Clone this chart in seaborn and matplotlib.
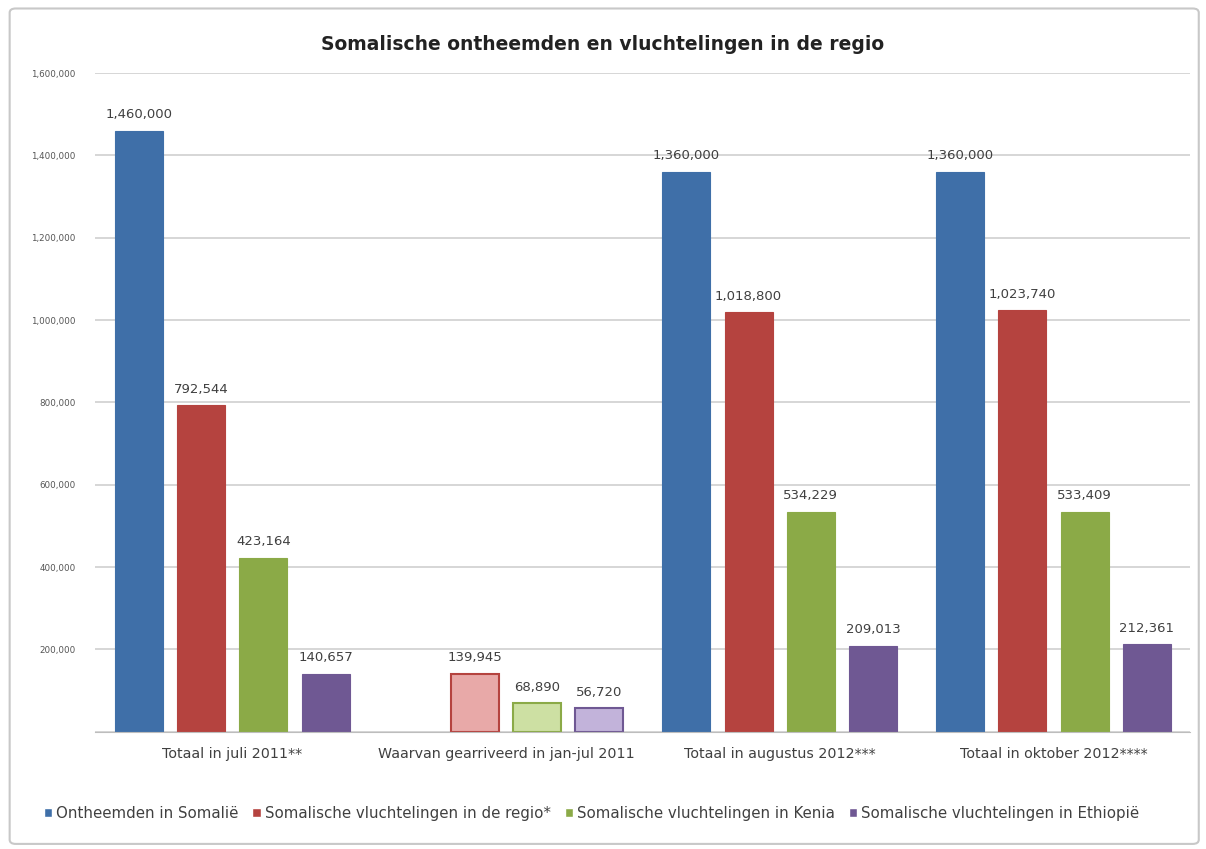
import numpy as np
import pandas as pd
import matplotlib.pyplot as plt
import seaborn as sns
from matplotlib.patches import FancyBboxPatch, Patch

# data
categories = ['Totaal in juli 2011**', 'Waarvan gearriveerd in jan-jul 2011',
              'Totaal in augustus 2012***', 'Totaal in oktober 2012****']
series = ['Ontheemden in Somalië', 'Somalische vluchtelingen in de regio*',
          'Somalische vluchtelingen in Kenia', 'Somalische vluchtelingen in Ethiopië']
ontheemden = [1460000, np.nan, 1360000, 1360000]
regio = [792544, 139945, 1018800, 1023740]
kenia = [423164, 68890, 534229, 533409]
ethiopie = [140657, 56720, 209013, 212361]

colors = ['#3F6FA8', '#B5433F', '#8BAA47', '#6F5893']
light_colors = ['#A9C1E0', '#E8A9A8', '#CDE0A3', '#C2B3DA']

rows = []
for name, vals in zip(series, [ontheemden, regio, kenia, ethiopie]):
    for cat, v in zip(categories, vals):
        rows.append({'cat': cat, 'serie': name, 'waarde': v})
df = pd.DataFrame(rows).dropna()

sns.set_style('white')
fig = plt.figure(figsize=(12.06, 8.49), dpi=100)
ax = fig.add_axes([0.079, 0.138, 0.908, 0.776])

sns.barplot(data=df, x='cat', y='waarde', hue='serie', order=categories,
            hue_order=series, palette=colors, width=0.91, gap=0.23,
            saturation=1, legend=False, ax=ax)

# lichte kleuren voor de middelste groep
for i, cont in enumerate(ax.containers):
    for bar in cont:
        bar.set_edgecolor(colors[i])
        bar.set_linewidth(0.8)
        xc = bar.get_x() + bar.get_width() / 2
        if round(xc) == 1:
            bar.set_facecolor(light_colors[i])
            bar.set_linewidth(1.5)
    ax.bar_label(cont, fmt='{:,.0f}', padding=7, fontsize=9.5, color='#404040')

ax.set_ylim(0, 1600000)
ticks = np.arange(0, 1600001, 200000)
ax.set_yticks(ticks)
ax.set_yticklabels([''] + [f'{t:,}' for t in ticks[1:]], fontsize=6.3, color='#555555')
ax.set_xlim(-0.5, 3.5)
ax.tick_params(axis='x', labelsize=10.3, colors='#404040', length=0, pad=11)
ax.tick_params(axis='y', length=0, pad=14)
ax.set_xlabel('')
ax.set_ylabel('')
ax.yaxis.grid(True, color='#cfcfcf', linewidth=1.2)
ax.set_axisbelow(True)
for s in ['top', 'right', 'left']:
    ax.spines[s].set_visible(False)
ax.spines['bottom'].set_color('#bdbdbd')

fig.text(0.5, 0.947, 'Somalische ontheemden en vluchtelingen in de regio',
         ha='center', va='center', fontsize=13.5, fontweight='bold', color='#222222')

handles = [Patch(facecolor=c, label=s) for c, s in zip(colors, series)]
fig.legend(handles=handles, loc='center left', bbox_to_anchor=(0.025, 0.042),
           ncol=4, frameon=False, fontsize=10.8, handlelength=0.55, handleheight=0.55,
           handletextpad=0.3, columnspacing=0.9, labelcolor='#404040')

fig.patches.append(FancyBboxPatch((0.008, 0.006), 0.986, 0.984,
                                  boxstyle='round,pad=0,rounding_size=0.005',
                                  transform=fig.transFigure, fill=False,
                                  edgecolor='#c8c8c8', linewidth=1.5))

fig.savefig('out.png', dpi=100)
